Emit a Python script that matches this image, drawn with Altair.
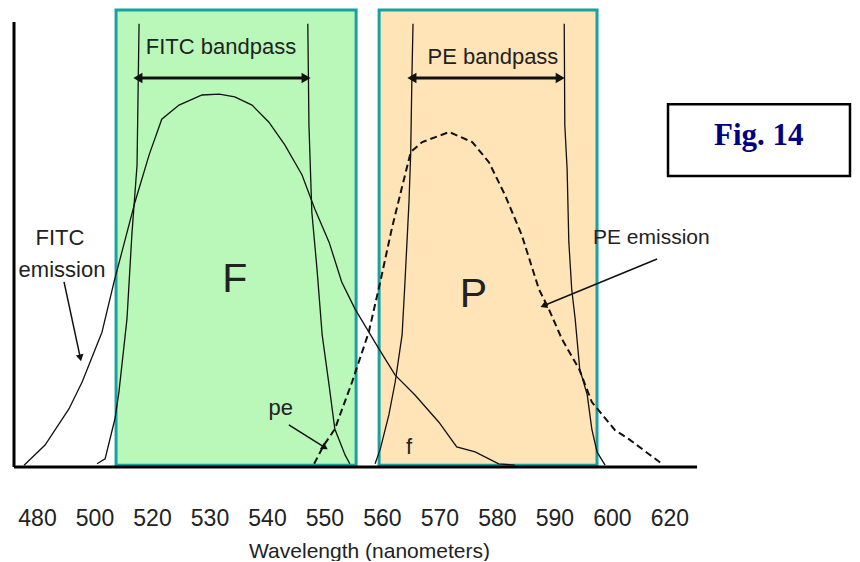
import altair as alt
import numpy as np
import pandas as pd

# ---- axis ticks (non-uniform labels, evenly spaced) ----
tick_wl = [480, 500, 520, 530, 540, 550, 560, 570, 580, 590, 600, 620]
tick_labels = [str(t) for t in tick_wl]

# ---- curves (wavelength nm, relative intensity 0-100) ----
fitc_em_wl = [475.5, 482.8, 491.1, 495.7, 502.6, 506.8, 514.1, 519.0, 521.7, 524.7,
              528.7, 531.7, 534.4, 537.4, 540.3, 543.1, 546.1, 548.3, 550.8, 553.0,
              555.3, 559.5, 562.3, 565.7, 569.9, 573.0, 576.2, 580.3, 583.1]
fitc_em_val = [0.4, 4.8, 12.7, 18.6, 29.5, 40.5, 58.0, 68.3, 76.1, 79.2,
               81.4, 81.6, 81.0, 79.2, 75.5, 70.5, 63.9, 56.5, 49.2, 40.5,
               34.6, 25.8, 20.1, 15.8, 9.8, 4.4, 3.3, 0.7, 0.4]

pe_em_wl = [548.2, 549.9, 551.8, 554.8, 557.7, 559.7, 561.7, 563.5, 565.0, 567.0,
            571.7, 575.7, 578.6, 581.4, 584.3, 587.3, 589.0, 591.3, 594.3, 596.5,
            598.8, 601.0, 605.9, 612.9, 617.4]
pe_em_val = [0.7, 4.8, 8.3, 18.6, 29.5, 40.5, 52.1, 61.3, 68.9, 71.1,
             73.3, 71.1, 66.7, 59.5, 50.8, 38.9, 34.6, 28.0, 21.4, 14.2,
             10.7, 8.1, 6.1, 2.8, 0.7]

fitc_left_wl = [500.9, 503.7, 507.1, 508.5, 511.3, 513.0, 514.8, 515.5]
fitc_left_val = [0.7, 1.8, 10.5, 16.4, 32.4, 50.8, 66.1, 97.0]
fitc_right_wl = [547.1, 547.3, 547.8, 548.7, 549.6, 550.8, 551.8, 553.6, 554.4]
fitc_right_val = [97.0, 74.8, 55.8, 43.3, 28.9, 17.9, 8.3, 2.6, 0.7]
pe_left_wl = [558.8, 559.7, 561.2, 562.3, 563.5, 564.0, 564.7, 565.0, 565.2, 565.4]
pe_left_val = [0.7, 3.9, 11.4, 18.6, 28.9, 40.5, 58.0, 68.9, 84.9, 97.0]
pe_right_wl = [591.7, 591.8, 592.2, 592.5, 593.0, 593.6, 594.4, 595.7, 596.5, 597.4, 598.8]
pe_right_val = [97.0, 74.8, 65.2, 49.2, 38.9, 32.4, 21.4, 15.8, 8.3, 3.3, 0.4]

# ---- shaded detection bands ----
band_name = ["FITC", "PE"]
band_start = [507.5, 559.5]
band_end = [555.5, 597.4]
band_fill = ["#b9f8b9", "#ffe4b8"]

# ---- bandpass arrows ----
bp_start = [515.1, 565.2]
bp_end = [546.8, 591.0]
bp_level = [85.1, 85.1]

# ---- pointer arrows (from -> to, head angle) ----
ptr_from_wl = [489.4, 543.8, 615.7]
ptr_from_val = [40.5, 9.2, 45.5]
ptr_to_wl = [495.0, 549.9, 588.3]
ptr_to_val = [24.1, 4.4, 35.4]
ptr_angle = [168, 122, 248]

# ---- text annotations ----
ann_text = ["FITC bandpass", "PE bandpass", "FITC", "emission", "F", "P", "pe", "f", "PE emission"]
ann_wl = [532.0, 579.3, 488.0, 488.7, 534.4, 575.9, 542.4, 564.7, 613.7]
ann_val = [90.4, 88.2, 48.6, 41.6, 38.3, 35.0, 11.4, 2.8, 48.8]
ann_size = [22, 22, 22, 22, 41, 41, 22, 22, 21]

fig_text = ["Fig. 14"]
fig_wl = [651.1]
fig_val = [70.5]
fig_box_x = [619.5, 682.8]
fig_box_y = [63.7, 79.4]

x_range_wl = [472.0, 683.5]
axis_end_wl = 629.6
yaxis_top = 97.4

# ---- map wavelengths onto evenly spaced axis positions ----
idx = np.arange(len(tick_wl), dtype=float)


def to_u(w):
    w = np.asarray(w, dtype=float)
    u = np.interp(w, tick_wl, idx)
    u = np.where(w < tick_wl[0], (w - tick_wl[0]) / 20.0, u)
    u = np.where(w > tick_wl[-1], idx[-1] + (w - tick_wl[-1]) / 20.0, u)
    return u


FONT = "Liberation Sans, Arial, sans-serif"
PAD = {"left": 4, "top": 0, "right": 0, "bottom": 0}

label_expr = "[" + ",".join("'%s'" % t for t in tick_labels) + "][datum.value]"
xscale = alt.Scale(domain=[float(to_u(x_range_wl[0])), float(to_u(x_range_wl[1]))], nice=False, zero=False)
xaxis = alt.Axis(values=list(range(len(tick_wl))), labelExpr=label_expr, domain=False, ticks=False,
                 tickSize=0, grid=False, labelPadding=58, labelBaseline="alphabetic",
                 labelFont=FONT, labelFontSize=23, labelColor="#222",
                 title="Wavelength (nanometers)", titleFont=FONT, titleFontSize=21,
                 titleFontWeight="normal", titleColor="#222", titleX=355, titleY=90,
                 titleAlign="center", titleAnchor="start", titleBaseline="alphabetic")
yscale = alt.Scale(domain=[0, 100], nice=False, zero=False)


def X(f="u"):
    return alt.X(f + ":Q", scale=xscale, axis=xaxis)


def Y(f="v"):
    return alt.Y(f + ":Q", scale=yscale, axis=None)


# data frames
bands = pd.DataFrame({"name": band_name, "u": to_u(band_start), "u2": to_u(band_end),
                      "v": [0.4, 0.4], "v2": [100, 100], "fill": band_fill})

rows = []
for name, wl, val in [("fitc_em", fitc_em_wl, fitc_em_val),
                      ("fitc_left", fitc_left_wl, fitc_left_val),
                      ("fitc_right", fitc_right_wl, fitc_right_val),
                      ("pe_left", pe_left_wl, pe_left_val),
                      ("pe_right", pe_right_wl, pe_right_val)]:
    for i, (w, v) in enumerate(zip(wl, val)):
        rows.append({"series": name, "u": float(to_u(w)), "v": v, "i": i})
solid = pd.DataFrame(rows)
dashed = pd.DataFrame({"u": to_u(pe_em_wl), "v": pe_em_val, "i": range(len(pe_em_wl))})

bp = pd.DataFrame({"u": to_u(bp_start), "u2": to_u(bp_end), "v": bp_level})
bp_heads = pd.DataFrame({"u": list(to_u(bp_start)) + list(to_u(bp_end)), "v": bp_level + bp_level,
                         "shape": ["triangle-left"] * 2 + ["triangle-right"] * 2})
ptr = pd.DataFrame({"u": to_u(ptr_from_wl), "v": ptr_from_val, "u2": to_u(ptr_to_wl), "v2": ptr_to_val,
                    "ang": ptr_angle})
ann = pd.DataFrame({"u": to_u(ann_wl), "v": ann_val, "text": ann_text, "size": ann_size})
fig = pd.DataFrame({"u": to_u(fig_wl), "v": fig_val, "text": fig_text})
figbox = pd.DataFrame({"u": [float(to_u(fig_box_x[0]))], "u2": [float(to_u(fig_box_x[1]))],
                       "v": [fig_box_y[0]], "v2": [fig_box_y[1]]})
axes_df = pd.DataFrame({"u": [float(to_u(x_range_wl[0]))], "u2": [float(to_u(axis_end_wl))],
                        "v": [0.0], "v2": [yaxis_top]})

band_layer = alt.Chart(bands).mark_rect(stroke="#1aa0a0", strokeWidth=3).encode(
    x=X(), x2="u2", y=Y(), y2="v2", fill=alt.Fill("fill:N", scale=None))

solid_layer = alt.Chart(solid).mark_line(color="#111", strokeWidth=1.3).encode(
    x=X(), y=Y(), detail="series:N", order="i:Q")
dashed_layer = alt.Chart(dashed).mark_line(color="#111", strokeWidth=2, strokeDash=[7, 4]).encode(
    x=X(), y=Y(), order="i:Q")

bp_layer = alt.Chart(bp).mark_rule(color="#111", strokeWidth=3).encode(x=X(), x2="u2", y=Y())
bp_head_layer = alt.Chart(bp_heads).mark_point(filled=True, color="#111", size=110, opacity=1).encode(
    x=X(), y=Y(), shape=alt.Shape("shape:N", scale=None))

ptr_layer = alt.Chart(ptr).mark_rule(color="#111", strokeWidth=1.5).encode(x=X(), x2="u2", y=Y(), y2="v2")
ptr_head_layer = alt.Chart(ptr).mark_point(filled=True, color="#111", size=60, opacity=1, shape="triangle").encode(
    x=X("u2"), y=Y("v2"), angle=alt.Angle("ang:Q", scale=None))

axis_x_layer = alt.Chart(axes_df).mark_rule(color="#000", strokeWidth=3).encode(x=X(), x2="u2", y=Y())
axis_y_layer = alt.Chart(axes_df).mark_rule(color="#000", strokeWidth=3).encode(x=X(), y=Y(), y2="v2")

ann_layer = alt.Chart(ann).mark_text(font=FONT, color="#222", baseline="alphabetic", align="center").encode(
    x=X(), y=Y(), text="text:N", size=alt.Size("size:Q", scale=None))

figbox_layer = alt.Chart(figbox).mark_rect(fill="white", stroke="#000", strokeWidth=2.5).encode(
    x=X(), x2="u2", y=Y(), y2="v2")
fig_layer = alt.Chart(fig).mark_text(font="Liberation Serif, Times New Roman, serif", fontWeight="bold",
                                     fontSize=31, color="#000080", baseline="alphabetic",
                                     align="center").encode(x=X(), y=Y(), text="text:N")

chart = alt.layer(band_layer, solid_layer, dashed_layer, bp_layer, bp_head_layer, ptr_layer,
                  ptr_head_layer, axis_x_layer, axis_y_layer, ann_layer, figbox_layer, fig_layer).properties(
    width=838, height=457, padding=PAD
).configure(background="white", padding=PAD).configure_view(stroke=None)

chart.save("out.html", embed_options={"renderer": "svg", "actions": False})
